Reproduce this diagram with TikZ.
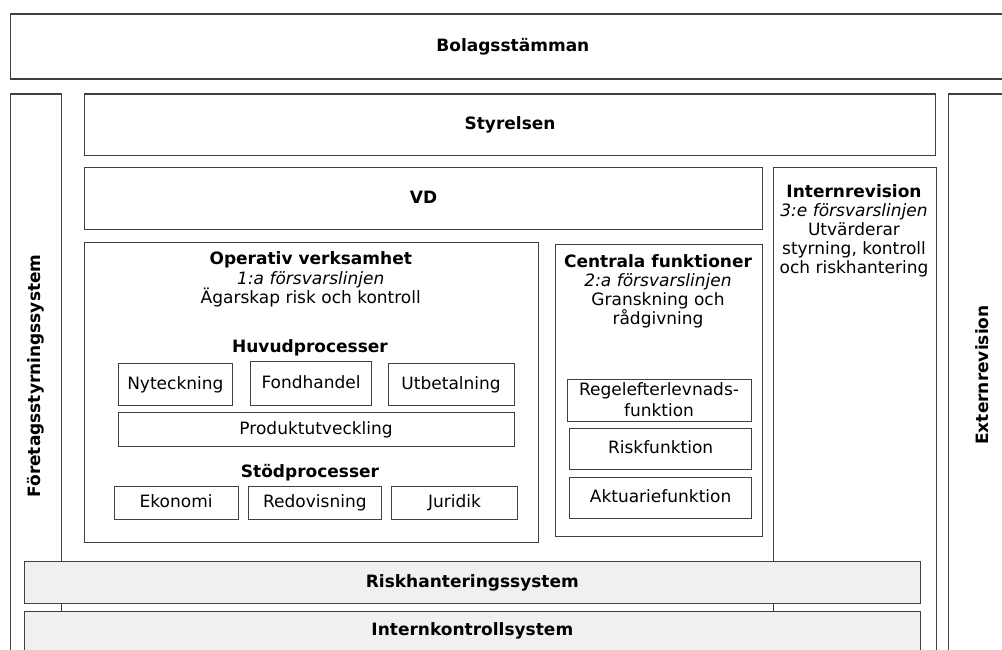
\documentclass[tikz,border=0pt]{standalone}
\usepackage{fontspec}
\setmainfont{DejaVu Sans}
\begin{document}
\begin{tikzpicture}[x=1pt,y=-1pt,
  font=\fontsize{17}{19}\selectfont,
  box/.style={draw=black!75, line width=1.2pt, inner sep=0pt, anchor=north west,
              text height=12.5pt, text depth=3.5pt, align=center},
  sysbox/.style={box, fill=black!6, font=\fontsize{17}{19}\selectfont\bfseries},
  ttl/.style={font=\fontsize{17}{19}\selectfont\bfseries},
  lbl/.style={inner sep=0pt, anchor=base},
  vlbl/.style={inner sep=0pt, rotate=90, font=\fontsize{17}{19}\selectfont\bfseries}]
\useasboundingbox (0,0) rectangle (1002,650);
\clip (0,0) rectangle (1002,650);

% outer frames
\node[box, ttl, minimum width=1005.5pt, minimum height=65pt] (bolag) at (9.5,13.5) {Bolagsstämman};
\node[box, minimum width=51.5pt, minimum height=620pt] (leftcol) at (9.5,93.5) {};
\node[vlbl] (leftlbl) at (36,376) {Företagsstyrningssystem};
\node[box, minimum width=68pt, minimum height=620pt] (extrev) at (948,93.5) {};
\node[vlbl] (extlbl) at (982,375) {Externrevision};
\node[box, minimum width=162.5pt, minimum height=560pt] (intrev) at (773,167) {};

\node[box, ttl, minimum width=851pt, minimum height=61.5pt] (styr) at (84,93.5) {Styrelsen};
\node[box, ttl, minimum width=678pt, minimum height=62pt] (vd) at (84,167) {VD};

% Internrevision text
\node[lbl, ttl] (ir1) at (854,197.5) {Internrevision};
\node[lbl] (ir2) at (854,216.5) {\itshape 3:e försvarslinjen};
\node[lbl] (ir3) at (854,235.5) {Utvärderar};
\node[lbl] (ir4) at (854,254.5) {styrning, kontroll};
\node[lbl] (ir5) at (854,273.5) {och riskhantering};

% Operativ verksamhet
\node[box, minimum width=453.5pt, minimum height=300.5pt] (oper) at (84,241.5) {};
\node[lbl, ttl] (op1) at (310.75,264.5) {Operativ verksamhet};
\node[lbl] (op2) at (310.75,284) {\itshape 1:a försvarslinjen};
\node[lbl] (op3) at (310.75,303.5) {Ägarskap risk och kontroll};
\node[lbl, ttl] (huvud) at (310,352.5) {Huvudprocesser};
\node[box, minimum width=114.5pt, minimum height=42pt] (nyt) at (117.5,363) {Nyteckning};
\node[box, minimum width=121pt, minimum height=44pt] (fond) at (250,361) {Fondhandel};
\node[box, minimum width=126pt, minimum height=42pt] (utb) at (387.5,363) {Utbetalning};
\node[box, minimum width=396pt, minimum height=34pt] (prod) at (117.5,412) {Produktutveckling};
\node[lbl, ttl] (stod) at (310,477) {Stödprocesser};
\node[box, minimum width=124pt, minimum height=33pt] (eko) at (113.5,486) {Ekonomi};
\node[box, minimum width=133.5pt, minimum height=33pt] (redo) at (247.5,486) {Redovisning};
\node[box, minimum width=126pt, minimum height=33pt] (jur) at (391,486) {Juridik};

% Centrala funktioner
\node[box, minimum width=207.5pt, minimum height=292pt] (centr) at (554.5,244) {};
\node[lbl, ttl] (cf1) at (658,267.5) {Centrala funktioner};
\node[lbl] (cf2) at (658,286.5) {\itshape 2:a försvarslinjen};
\node[lbl] (cf3) at (658,305.5) {Granskning och};
\node[lbl] (cf4) at (658,324) {rådgivning};
\node[box, minimum width=184pt, minimum height=42pt] (regel) at (567,379) {};
\node[lbl] (rg1) at (659,395.5) {Regelefterlevnads-};
\node[lbl] (rg2) at (659,416) {funktion};
\node[box, minimum width=182pt, minimum height=41pt] (riskf) at (569,428) {Riskfunktion};
\node[box, minimum width=182pt, minimum height=41pt] (akt) at (569,477) {Aktuariefunktion};

% system bars
\node[sysbox, minimum width=896.5pt, minimum height=42pt] (riskh) at (23.5,561) {Riskhanteringssystem};
\node[sysbox, minimum width=896.5pt, minimum height=39pt] (ikon) at (23.5,611) {Internkontrollsystem};
\end{tikzpicture}
\end{document}
